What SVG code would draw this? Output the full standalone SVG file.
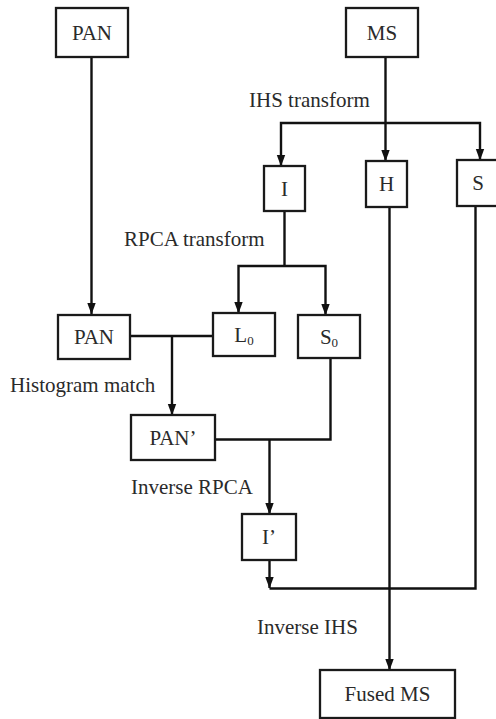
<svg xmlns="http://www.w3.org/2000/svg" width="496" height="719" viewBox="0 0 496 719">
<defs>
<marker id="arr" markerUnits="userSpaceOnUse" markerWidth="12" markerHeight="10" refX="11" refY="5" orient="auto-start-reverse" viewBox="0 0 12 10">
<path d="M0,0.8 L11.5,5 L0,9.2 Z" fill="#111"/>
</marker>
</defs>
<style>
.box{fill:#fff;stroke:#1a1a1a;stroke-width:2.3}
.t{font-family:"Liberation Serif","Times New Roman",serif;font-size:21px;fill:#2a2a2a}
.c{text-anchor:middle}
.ln{fill:none;stroke:#111;stroke-width:2.4}
</style>
<rect width="496" height="719" fill="#fff"/>
<g id="connectors">
<line class="ln" x1="91.5" y1="57" x2="91.5" y2="314" marker-end="url(#arr)"/>
<line class="ln" x1="385.5" y1="57" x2="385.5" y2="161" marker-end="url(#arr)"/>
<polyline class="ln" points="281,166 281,123 480,123 480,160" marker-start="url(#arr)" marker-end="url(#arr)"/>
<line class="ln" x1="284.5" y1="211" x2="284.5" y2="266"/>
<polyline class="ln" points="238.5,313 238.5,266 325.5,266 325.5,315" marker-start="url(#arr)" marker-end="url(#arr)"/>
<line class="ln" x1="130" y1="336" x2="213" y2="336"/>
<line class="ln" x1="172" y1="336" x2="172" y2="415" marker-end="url(#arr)"/>
<polyline class="ln" points="215,439.5 330.5,439.5 330.5,358"/>
<line class="ln" x1="269.5" y1="439.5" x2="269.5" y2="514" marker-end="url(#arr)"/>
<line class="ln" x1="269.5" y1="560" x2="269.5" y2="588" marker-end="url(#arr)"/>
<polyline class="ln" points="269.5,588.5 475.5,588.5 475.5,206"/>
<line class="ln" x1="389.5" y1="207" x2="389.5" y2="670" marker-end="url(#arr)"/>
</g>
<g id="pan">
<rect class="box" x="56" y="8" width="72" height="49"/>
<text class="t c" x="92" y="39.5">PAN</text>
</g>
<g id="ms">
<rect class="box" x="346" y="8" width="72" height="49"/>
<text class="t c" x="382" y="39.5">MS</text>
</g>
<g id="i">
<rect class="box" x="264" y="166" width="41" height="45"/>
<text class="t c" x="284.5" y="195.5">I</text>
</g>
<g id="h">
<rect class="box" x="366" y="161" width="41" height="46"/>
<text class="t c" x="386.5" y="190.5">H</text>
</g>
<g id="s">
<rect class="box" x="457" y="160" width="42" height="46"/>
<text class="t c" x="478" y="190">S</text>
</g>
<g id="pan2">
<rect class="box" x="58" y="315" width="72" height="44"/>
<text class="t c" x="94" y="344">PAN</text>
</g>
<g id="l0">
<rect class="box" x="213" y="313" width="62" height="43"/>
<text class="t c" x="244" y="341.5">L<tspan font-size="13" dy="3">0</tspan></text>
</g>
<g id="s0">
<rect class="box" x="298" y="315" width="62" height="43"/>
<text class="t c" x="329" y="343.5">S<tspan font-size="13" dy="3">0</tspan></text>
</g>
<g id="panp">
<rect class="box" x="131" y="415" width="84" height="45"/>
<text class="t c" x="173" y="444.5">PAN’</text>
</g>
<g id="ip">
<rect class="box" x="242" y="514" width="54" height="46"/>
<text class="t c" x="269" y="544">I’</text>
</g>
<g id="fused">
<rect class="box" x="320" y="670" width="135" height="48"/>
<text class="t c" x="387.5" y="701">Fused MS</text>
</g>
<g id="labels">
<text class="t" x="249" y="107">IHS transform</text>
<text class="t" x="124" y="245.5">RPCA transform</text>
<text class="t" x="10" y="391.5">Histogram match</text>
<text class="t" x="131" y="494">Inverse RPCA</text>
<text class="t" x="257" y="634">Inverse IHS</text>
</g>
</svg>
